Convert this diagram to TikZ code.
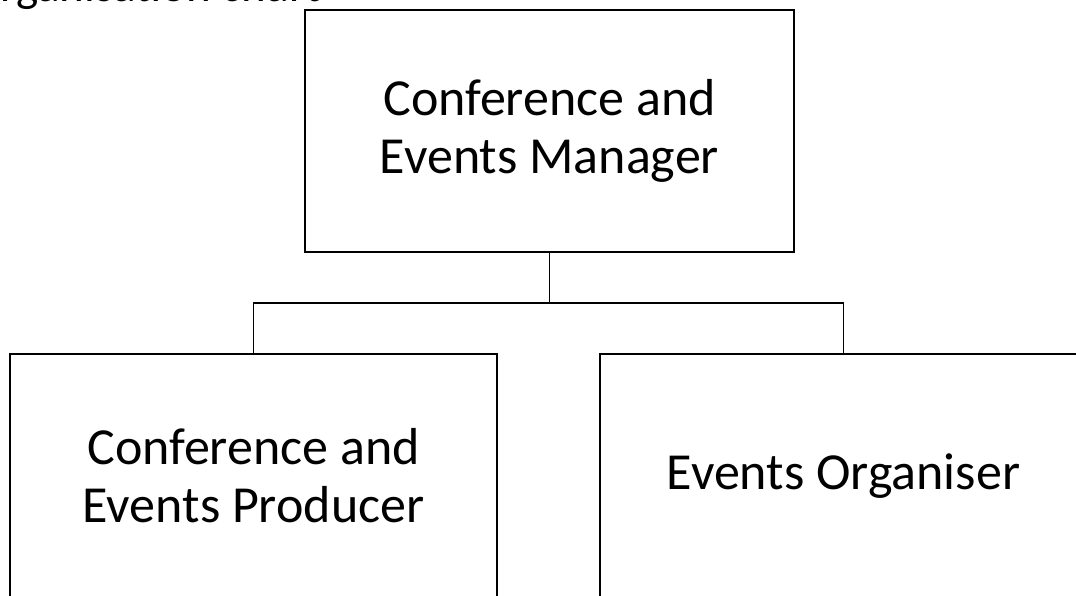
\documentclass[tikz,border=0pt]{standalone}
\usepackage{fontspec}
\setmainfont{Carlito}
\begin{document}
\begin{tikzpicture}[x=1pt,y=-1pt,
  rolebox/.style={draw=black, line width=2pt, rectangle, align=center,
    font=\fontsize{52}{58}\selectfont, inner sep=0pt},
  link/.style={draw=black, line width=1.6pt}]
  \useasboundingbox (0,0) rectangle (1076,596);
  \clip (0,0) rectangle (1076,596);

  % title, running off the top edge of the page
  \node[anchor=base west, font=\fontsize{47}{56}\selectfont, inner sep=0pt]
    (title) at (-31,2) {Organisation chart};

  % role boxes
  \node[rolebox, minimum width=489pt, minimum height=242pt] (mgr) at (549.5,131)
    {Conference and\\Events Manager};
  \node[rolebox, minimum width=487pt, minimum height=244pt] (prod) at (253.5,476)
    {Conference and\\Events Producer};
  \node[rolebox, minimum width=487pt, minimum height=244pt] (org) at (843.5,476)
    {Events Organiser};

  % reporting lines
  \coordinate (j) at (549.5,303);
  \draw[link] (mgr.south) -- (j);
  \draw[link] (prod.north) |- (j) -| (org.north);
\end{tikzpicture}
\end{document}
